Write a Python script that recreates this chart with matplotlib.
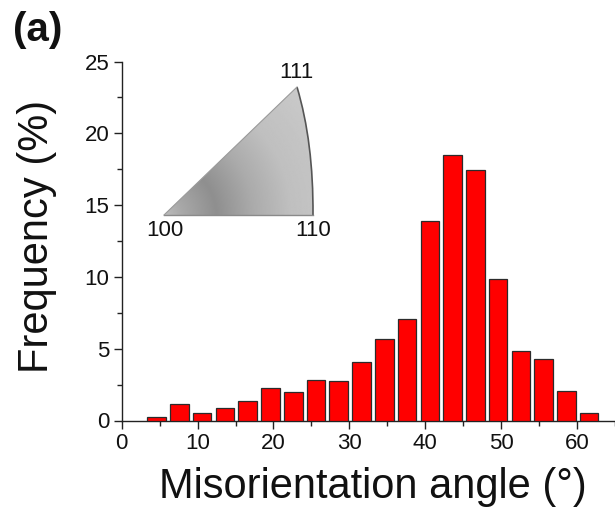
"""
Misorientation angle histogram with a stereographic-triangle inset.
Output: out.png
"""
import numpy as np
import matplotlib
matplotlib.use("Agg")
import matplotlib.pyplot as plt
from matplotlib.path import Path
from matplotlib.patches import PathPatch
from matplotlib.ticker import MultipleLocator

plt.rcParams["font.family"] = ["Liberation Sans", "DejaVu Sans"]

# bin centres (deg) and frequencies (%)
angle_centres = [4.6, 7.6, 10.6, 13.6, 16.6, 19.6, 22.6, 25.6, 28.6, 31.6,
                 34.6, 37.6, 40.6, 43.6, 46.6, 49.6, 52.6, 55.6, 58.6, 61.6]
frequency = [0.24, 1.14, 0.49, 0.9, 1.39, 2.25, 1.98, 2.85, 2.72, 4.06,
             5.7, 7.05, 13.9, 18.5, 17.45, 9.84, 4.87, 4.27, 2.02, 0.5]
pole_labels = ["100", "110", "111"]

W, H = 615, 520
fig = plt.figure(figsize=(W / 100, H / 100), dpi=100)

# main axes placed in pixel terms: x=0 at 121.7 px, y=0 at 420.5 px, y=25 at 61.5 px
x0, x1 = 121.7, 615.0
y0, y1 = 420.5, 61.5
ax = fig.add_axes([x0 / W, (H - y0) / H, (x1 - x0) / W, (y0 - y1) / H])
ax.bar(angle_centres, frequency, width=2.45, color="#ff0000",
       edgecolor="#2b2b2b", linewidth=0.9, zorder=3)
ax.set_xlim(0, 65)
ax.set_ylim(0, 25)
ax.xaxis.set_major_locator(MultipleLocator(10))
ax.xaxis.set_minor_locator(MultipleLocator(5))
ax.yaxis.set_major_locator(MultipleLocator(5))
ax.yaxis.set_minor_locator(MultipleLocator(2.5))
for s in ("top", "right"):
    ax.spines[s].set_visible(False)
for s in ("left", "bottom"):
    ax.spines[s].set_linewidth(1.0)
    ax.spines[s].set_color("#222222")
ax.tick_params(which="major", direction="out", length=6, width=1.0,
               labelsize=16, colors="#222222", labelcolor="#111111", pad=3)
ax.tick_params(which="minor", direction="out", length=3.5, width=1.0,
               colors="#222222")
ax.spines["bottom"].set_clip_on(False)

fig.text(373 / W, 1 - 487 / H, "Misorientation angle (°)", ha="center",
         va="center", fontsize=30, color="#111111")
fig.text(37 / W, 1 - 236.5 / H, "Frequency (%)", ha="center", va="center",
         rotation=90, fontsize=30, color="#111111")
fig.text(38 / W, 1 - 30 / H, "(a)", ha="center", va="center",
         fontsize=29, fontweight="bold", color="#111111")

# inset: stereographic triangle drawn on a pixel-space overlay
ov = fig.add_axes([0, 0, 1, 1], zorder=5)
ov.set_xlim(0, W)
ov.set_ylim(H, 0)
ov.patch.set_alpha(0)
ov.axis("off")

p100 = (164, 215)
p110 = (313, 215)
p111 = (297, 87)
ctrl = (313.5, 142)
verts = [p100, p110, ctrl, p111, p100, p100]
codes = [Path.MOVETO, Path.LINETO, Path.CURVE3, Path.CURVE3, Path.LINETO,
         Path.CLOSEPOLY]
tri = Path(verts, codes)

xs = np.linspace(p100[0], 316, 200)
ys = np.linspace(84, p100[1], 180)
XX, YY = np.meshgrid(xs, ys)
r = np.hypot(XX - p100[0], YY - p100[1]) / 149.0
shade = np.interp(r, [0.0, 0.12, 0.35, 0.6, 0.85, 1.25],
                  [0.74, 0.66, 0.56, 0.67, 0.75, 0.79])
img = ov.imshow(shade, cmap="gray", vmin=0, vmax=1,
                extent=(xs[0], xs[-1], ys[-1], ys[0]), interpolation="bilinear")
edge = PathPatch(tri, facecolor="none", edgecolor="none")
ov.add_patch(edge)
img.set_clip_path(edge)

ov.plot([p100[0], p110[0]], [p100[1], p110[1]], color="#8a8a8a", lw=1.0)
ov.plot([p100[0], p111[0]], [p100[1], p111[1]], color="#9a9a9a", lw=0.8)
arc = PathPatch(Path([p110, ctrl, p111], [Path.MOVETO, Path.CURVE3, Path.CURVE3]),
                facecolor="none", edgecolor="#555555", lw=1.2)
ov.add_patch(arc)

ov.text(p100[0] + 1, 230, pole_labels[0], ha="center", va="center",
        fontsize=16, color="#111111")
ov.text(p110[0], 230, pole_labels[1], ha="center", va="center",
        fontsize=16, color="#111111")
ov.text(p111[0] - 1, 72, pole_labels[2], ha="center", va="center",
        fontsize=16, color="#111111")

fig.savefig("out.png", dpi=100)
